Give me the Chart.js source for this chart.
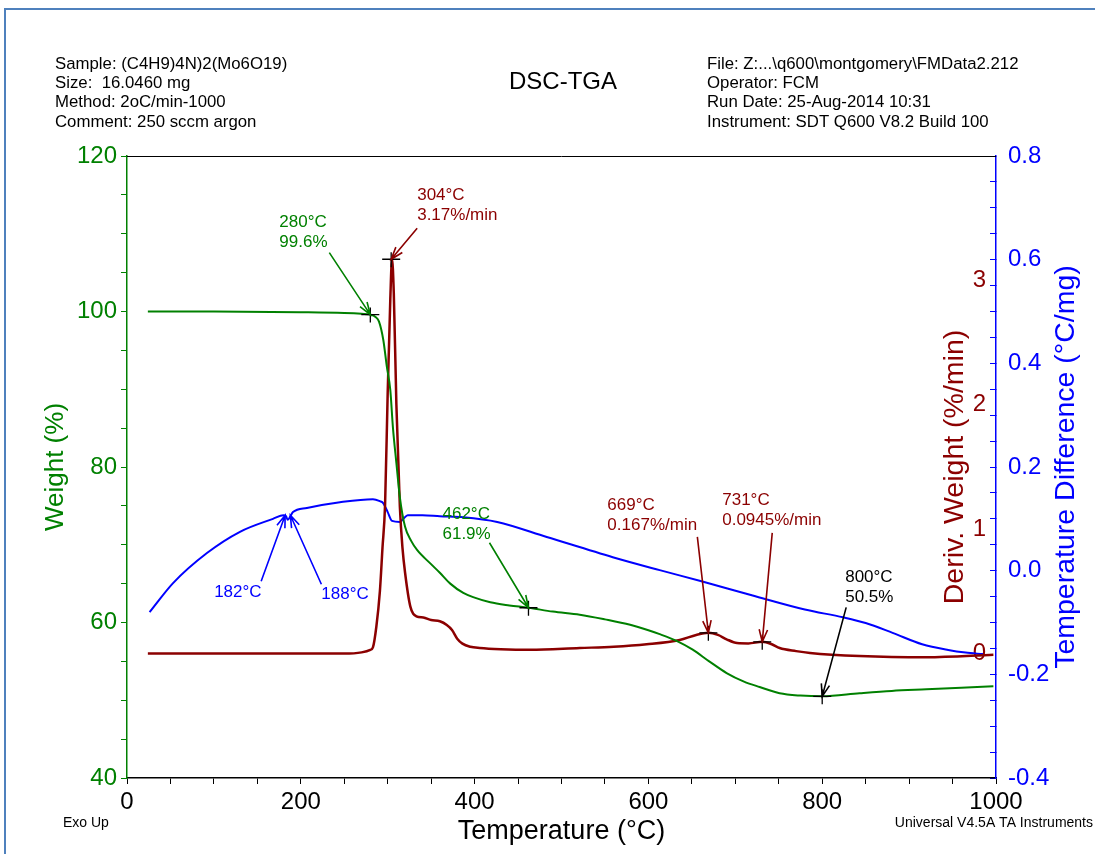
<!DOCTYPE html>
<html>
<head>
<meta charset="utf-8">
<title>DSC-TGA</title>
<script src="https://cdn.jsdelivr.net/npm/chart.js@4.4.1/dist/chart.umd.min.js"></script>
<style>
  body { margin: 0; background: #fff; }
  canvas { display: block; }
</style>
</head>
<body>
<canvas id="dscChart" width="1095" height="854"></canvas>
<script>
// weight (%) vs temperature
const weightTemp = [24, 100, 200, 250, 270, 280, 286, 290, 295, 299, 303, 306, 310, 314, 320, 327, 334, 349, 360, 372,
  387, 400, 418, 440, 462, 490, 521, 550, 579, 600, 613, 633, 651, 670, 690, 710, 728, 751, 775, 800, 843, 880, 920, 960, 997];
const weightVals = [100.0, 100.0, 99.9, 99.8, 99.7, 99.6, 99.3, 98.7, 96.3, 92.9, 89.9, 85.1, 80.5, 76.1, 72.3, 70.5, 69.3, 67.6, 66.4, 65.0,
  63.8, 63.2, 62.6, 62.2, 61.9, 61.4, 61.0, 60.4, 59.7, 59.0, 58.5, 57.6, 56.5, 55.0, 53.5, 52.4, 51.7, 50.9, 50.6, 50.5, 50.9, 51.2, 51.4, 51.6, 51.8];

// deriv. weight (%/min)
const derivTemp = [24, 100, 200, 250, 270, 280, 283, 287, 291, 294, 297, 300, 303, 305, 307, 310, 314, 317, 320, 326,
  333, 341, 350, 360, 368, 374, 380, 386, 395, 406, 430, 464, 521, 560, 598, 636, 655, 669, 680, 690,
  702, 715, 731, 742, 751, 770, 786, 843, 920, 997];
const derivVals = [0.0, 0.0, 0.0, 0.0, 0.01, 0.03, 0.05, 0.22, 0.5, 0.85, 1.2, 2.1, 2.85, 3.17, 2.9, 2.0, 1.18, 0.85, 0.65, 0.38,
  0.3, 0.29, 0.27, 0.26, 0.23, 0.19, 0.12, 0.08, 0.055, 0.045, 0.035, 0.03, 0.045, 0.055, 0.075, 0.11, 0.15, 0.167, 0.15, 0.115,
  0.085, 0.082, 0.0945, 0.075, 0.045, 0.02, 0.005, -0.02, -0.03, -0.01];

// temperature difference (°C/mg)
const dtTemp = [26, 53, 92, 130, 168, 180, 183, 185, 188, 191, 207, 245, 283, 291, 295, 300, 305, 314, 318, 323,
  340, 360, 387, 426, 483, 559, 613, 660, 720, 780, 824, 850, 881, 915, 945, 965, 985];
const dtVals = [-0.08, -0.024, 0.034, 0.075, 0.100, 0.107, 0.105, 0.098, 0.105, 0.113, 0.121, 0.132, 0.138, 0.134, 0.130, 0.113, 0.096, 0.094, 0.1, 0.107,
  0.107, 0.105, 0.103, 0.094, 0.065, 0.026, 0.001, -0.02, -0.048, -0.075, -0.09, -0.101, -0.12, -0.142, -0.153, -0.158, -0.161];

// annotations
const noteTemps = [280, 304, 182, 188, 462, 669, 731, 800];
const noteVals = [99.6, 3.17, 0.107, 0.107, 61.9, 0.167, 0.0945, 50.5];
const noteAxes = ['yWeight', 'yDeriv', 'yDT', 'yDT', 'yWeight', 'yDeriv', 'yDeriv', 'yWeight'];
const noteLabels = [
  ['280°C', '99.6%'], ['304°C', '3.17%/min'], ['182°C'], ['188°C'],
  ['462°C', '61.9%'], ['669°C', '0.167%/min'], ['731°C', '0.0945%/min'], ['800°C', '50.5%']
];

const sampleInfo = ['Sample: (C4H9)4N)2(Mo6O19)', 'Size:  16.0460 mg', 'Method: 2oC/min-1000', 'Comment: 250 sccm argon'];
const runInfo = ['File: Z:...\\q600\\montgomery\\FMData2.212', 'Operator: FCM', 'Run Date: 25-Aug-2014 10:31', 'Instrument: SDT Q600 V8.2 Build 100'];

const GREEN = '#008000';
const DARKRED = '#8b0000';
const BLUE = '#0000ff';
const FONT = 'Arial, "Liberation Sans", sans-serif';

// label placement for each note: arrow tail and text start, relative to the arrow tip
const noteLayout = [
  { tail: [-41, -62], text: [-91, -92], color: GREEN, cross: true },
  { tail: [26, -31], text: [26, -64], color: DARKRED, cross: true },
  { tail: [-24, 66], text: [-71, 77], color: BLUE, cross: false },
  { tail: [31, 69], text: [31, 79], color: BLUE, cross: false },
  { tail: [-39, -65], text: [-86, -93], color: GREEN, cross: true },
  { tail: [-11, -96], text: [-101, -128], color: DARKRED, cross: true },
  { tail: [10, -109], text: [-40, -142], color: DARKRED, cross: true },
  { tail: [24, -89], text: [23, -119], color: '#000', cross: true }
];

function toXY(ts, vs) {
  return ts.map((t, i) => ({ x: t, y: vs[i] }));
}

function drawArrow(ctx, x1, y1, x2, y2, color) {
  const a = Math.atan2(y2 - y1, x2 - x1);
  const len = 13, spread = 0.33;
  ctx.save();
  ctx.strokeStyle = color;
  ctx.lineWidth = 1.6;
  ctx.beginPath();
  ctx.moveTo(x1, y1);
  ctx.lineTo(x2, y2);
  ctx.moveTo(x2 - len * Math.cos(a - spread), y2 - len * Math.sin(a - spread));
  ctx.lineTo(x2, y2);
  ctx.lineTo(x2 - len * Math.cos(a + spread), y2 - len * Math.sin(a + spread));
  ctx.stroke();
  ctx.restore();
}

const decorations = {
  id: 'decorations',
  afterDatasetsDraw(chart) {
    const ctx = chart.ctx;
    const area = chart.chartArea;

    // frame line on top of plot
    ctx.save();
    ctx.strokeStyle = '#000';
    ctx.lineWidth = 1;
    ctx.beginPath();
    ctx.moveTo(area.left, area.top + 0.5);
    ctx.lineTo(area.right, area.top + 0.5);
    ctx.stroke();
    ctx.restore();

    // notes: cross, arrow, text
    noteTemps.forEach((t, i) => {
      const lay = noteLayout[i];
      const px = chart.scales.x.getPixelForValue(t);
      const py = chart.scales[noteAxes[i]].getPixelForValue(noteVals[i]);
      if (lay.cross) {
        ctx.save();
        ctx.strokeStyle = '#000';
        ctx.lineWidth = 1.3;
        ctx.beginPath();
        ctx.moveTo(px - 9, py); ctx.lineTo(px + 9, py);
        ctx.moveTo(px, py - 7); ctx.lineTo(px, py + 8);
        ctx.stroke();
        ctx.restore();
      }
      drawArrow(ctx, px + lay.tail[0], py + lay.tail[1], px, py, lay.color);
      ctx.save();
      ctx.fillStyle = lay.color;
      ctx.font = '17px ' + FONT;
      ctx.textAlign = 'left';
      ctx.textBaseline = 'middle';
      noteLabels[i].forEach((s, k) => {
        ctx.fillText(s, px + lay.text[0], py + lay.text[1] + k * 20);
      });
      ctx.restore();
    });
  },
  afterDraw(chart) {
    const ctx = chart.ctx;
    const area = chart.chartArea;
    const midY = (area.top + area.bottom) / 2;
    ctx.save();

    // outer border (top and left)
    ctx.strokeStyle = '#4f81bd';
    ctx.lineWidth = 2;
    ctx.beginPath();
    ctx.moveTo(5, 854);
    ctx.lineTo(5, 9);
    ctx.lineTo(1095, 9);
    ctx.stroke();

    // header blocks
    ctx.fillStyle = '#000';
    ctx.font = '16.8px ' + FONT;
    ctx.textAlign = 'left';
    ctx.textBaseline = 'middle';
    sampleInfo.forEach((s, k) => ctx.fillText(s, 55, 64 + k * 19.3));
    runInfo.forEach((s, k) => ctx.fillText(s, 707, 64 + k * 19.3));
    ctx.font = '24px ' + FONT;
    ctx.textAlign = 'center';
    ctx.fillText('DSC-TGA', 563, 82);

    // footer notes
    ctx.font = '14px ' + FONT;
    ctx.textAlign = 'left';
    ctx.fillText('Exo Up', 63, 823);
    ctx.textAlign = 'right';
    ctx.fillText('Universal V4.5A TA Instruments', 1093, 823);

    // right-hand axis titles, reading upward
    ctx.font = '28.5px ' + FONT;
    ctx.textAlign = 'center';
    ctx.translate(area.right - 41, midY);
    ctx.rotate(-Math.PI / 2);
    ctx.fillStyle = DARKRED;
    ctx.fillText('Deriv. Weight (%/min)', 0, 0);
    ctx.rotate(Math.PI / 2);
    ctx.translate(111, 0);
    ctx.rotate(-Math.PI / 2);
    ctx.fillStyle = BLUE;
    ctx.fillText('Temperature Difference (°C/mg)', 0, 0);
    ctx.restore();
  }
};

function onStep(step, value) {
  return Math.abs(value / step - Math.round(value / step)) < 1e-6;
}

new Chart(document.getElementById('dscChart').getContext('2d'), {
  type: 'line',
  data: {
    datasets: [
      {
        label: 'Weight',
        data: toXY(weightTemp, weightVals),
        yAxisID: 'yWeight',
        borderColor: GREEN,
        borderWidth: 2,
        pointRadius: 0,
        cubicInterpolationMode: 'monotone'
      },
      {
        label: 'Deriv. Weight',
        data: toXY(derivTemp, derivVals),
        yAxisID: 'yDeriv',
        borderColor: DARKRED,
        borderWidth: 2.5,
        pointRadius: 0,
        cubicInterpolationMode: 'monotone'
      },
      {
        label: 'Temperature Difference',
        data: toXY(dtTemp, dtVals),
        yAxisID: 'yDT',
        borderColor: BLUE,
        borderWidth: 2,
        pointRadius: 0,
        cubicInterpolationMode: 'monotone'
      }
    ]
  },
  options: {
    responsive: false,
    animation: false,
    devicePixelRatio: 1,
    layout: { padding: { top: 156, left: 0, right: 0, bottom: 0 } },
    plugins: {
      legend: { display: false },
      tooltip: { enabled: false }
    },
    scales: {
      x: {
        type: 'linear',
        min: 0,
        max: 1000,
        afterFit(scale) { scale.height = 76; },
        border: { color: '#000', width: 1.5 },
        grid: { drawOnChartArea: false, tickLength: 6, color: '#000' },
        ticks: {
          stepSize: 50,
          padding: 4,
          color: '#000',
          font: { family: FONT, size: 24 },
          maxRotation: 0,
          autoSkip: false,
          callback: (v) => (onStep(200, v) ? String(v) : '')
        },
        title: {
          display: true,
          text: 'Temperature (°C)',
          color: '#000',
          font: { family: FONT, size: 27 },
          padding: { top: 0, bottom: 6 }
        }
      },
      yWeight: {
        position: 'left',
        min: 40,
        max: 120,
        afterFit(scale) { scale.width = 127; },
        border: { color: GREEN, width: 1.5 },
        grid: { drawOnChartArea: false, tickLength: 6, color: GREEN },
        ticks: {
          stepSize: 5,
          padding: 4,
          color: GREEN,
          font: { family: FONT, size: 24 },
          autoSkip: false,
          callback: (v) => (onStep(20, v) ? String(v) : '')
        },
        title: {
          display: true,
          text: 'Weight (%)',
          color: GREEN,
          font: { family: FONT, size: 26 },
          padding: { top: 40, bottom: 0 }
        }
      },
      yDeriv: {
        position: 'right',
        min: -1,
        max: 4,
        afterFit(scale) { scale.width = 0; },
        border: { display: false },
        grid: { display: false },
        ticks: {
          stepSize: 1,
          mirror: true,
          padding: -10,
          color: DARKRED,
          font: { family: FONT, size: 24 },
          callback: (v) => (v >= 0 && v <= 3 ? String(v) : '')
        }
      },
      yDT: {
        position: 'right',
        min: -0.4,
        max: 0.8,
        afterFit(scale) { scale.width = 99; },
        border: { color: BLUE, width: 1.5 },
        // negative length turns the tick marks inward, as in the original
        grid: { drawOnChartArea: false, tickLength: -6, color: BLUE },
        ticks: {
          stepSize: 0.05,
          padding: 18,
          color: BLUE,
          font: { family: FONT, size: 24 },
          autoSkip: false,
          callback: (v) => (onStep(0.2, v) ? v.toFixed(1) : '')
        }
      }
    }
  },
  plugins: [decorations]
});
</script>
</body>
</html>
